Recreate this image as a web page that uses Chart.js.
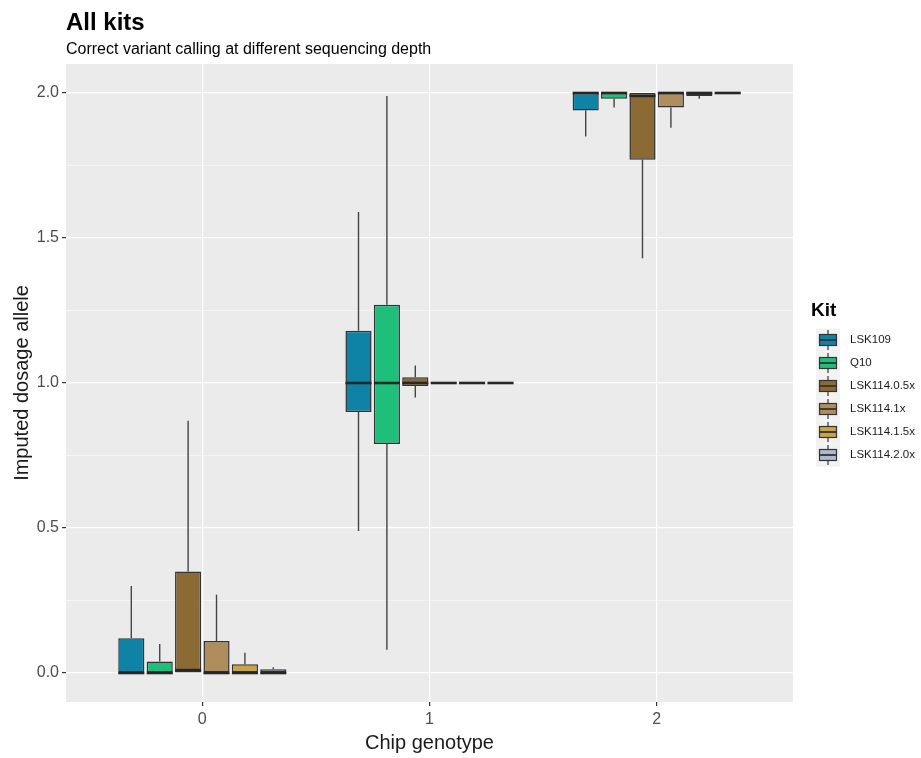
<!DOCTYPE html>
<html lang="en">
<head>
  <meta charset="UTF-8">
  <title>All kits</title>
  <script src="https://cdn.jsdelivr.net/npm/chart.js@4/dist/chart.umd.min.js"></script>
  <style>
    * { margin: 0; padding: 0; box-sizing: border-box; }
    body { background: #ffffff; width: 921px; height: 758px; overflow: hidden; }
    #wrap { position: relative; width: 921px; height: 758px; }
  </style>
</head>
<body>
  <div id="wrap"><canvas id="boxChart" width="921" height="758"></canvas></div>

  <script>
    // chip genotype groups on the x axis
    const genotypes = [0, 1, 2];
    const kits = ['LSK109', 'Q10', 'LSK114.0.5x', 'LSK114.1x', 'LSK114.1.5x', 'LSK114.2.0x'];
    const kitColors = ['#0e83a6', '#1ebf7b', '#8c6a34', '#b08d5c', '#c8a445', '#aebacb'];

    // five-number summary per genotype: [min, q1, median, q3, max]
    const lsk109   = [[0, 0, 0, 0.12, 0.30],     [0.49, 0.90, 1.00, 1.18, 1.59], [1.85, 1.94, 2.00, 2.00, 2.00]];
    const q10      = [[0, 0, 0, 0.04, 0.10],     [0.08, 0.79, 1.00, 1.27, 1.99], [1.95, 1.98, 2.00, 2.00, 2.00]];
    const lsk114_05 = [[0, 0, 0.01, 0.35, 0.87], [0.95, 0.99, 1.00, 1.02, 1.06], [1.43, 1.77, 1.99, 2.00, 2.00]];
    const lsk114_1  = [[0, 0, 0, 0.11, 0.27],    [1.00, 1.00, 1.00, 1.00, 1.00], [1.88, 1.95, 2.00, 2.00, 2.00]];
    const lsk114_15 = [[0, 0, 0, 0.03, 0.07],    [1.00, 1.00, 1.00, 1.00, 1.00], [1.98, 1.99, 2.00, 2.00, 2.00]];
    const lsk114_20 = [[0, 0, 0, 0.013, 0.02],   [1.00, 1.00, 1.00, 1.00, 1.00], [2.00, 2.00, 2.00, 2.00, 2.00]];
    const kitStats = [lsk109, q10, lsk114_05, lsk114_1, lsk114_15, lsk114_20];

    const FONT = "'Liberation Sans', Arial, sans-serif";
    const isMajor = v => Math.abs(v * 2 - Math.round(v * 2)) < 1e-9;

    // grey panel behind the grid
    const panelBg = {
      id: 'panelBg',
      beforeDraw(chart) {
        const { ctx, chartArea: a } = chart;
        ctx.save();
        ctx.fillStyle = '#ebebeb';
        ctx.fillRect(a.left, a.top, a.right - a.left, a.bottom - a.top);
        ctx.restore();
      }
    };

    // whiskers and medians on top of the floating bars
    const whiskers = {
      id: 'whiskers',
      afterDatasetsDraw(chart) {
        const { ctx } = chart;
        const y = chart.scales.y;
        ctx.save();
        chart.data.datasets.forEach((ds, d) => {
          const meta = chart.getDatasetMeta(d);
          meta.data.forEach((bar, i) => {
            const s = kitStats[d][i];
            const { x, width } = bar.getProps(['x', 'width'], true);
            ctx.strokeStyle = '#444444';
            ctx.lineWidth = 1.4;
            ctx.beginPath();
            ctx.moveTo(x, y.getPixelForValue(s[3]));
            ctx.lineTo(x, y.getPixelForValue(s[4]));
            ctx.moveTo(x, y.getPixelForValue(s[1]));
            ctx.lineTo(x, y.getPixelForValue(s[0]));
            ctx.stroke();
            ctx.strokeStyle = '#262626';
            ctx.lineWidth = 2.6;
            ctx.beginPath();
            const my = y.getPixelForValue(s[2]);
            ctx.moveTo(x - width / 2, my);
            ctx.lineTo(x + width / 2, my);
            ctx.stroke();
          });
        });
        ctx.restore();
      }
    };

    // title, subtitle and the kit legend
    const annotations = {
      id: 'annotations',
      afterDraw(chart) {
        const { ctx } = chart;
        ctx.save();
        ctx.fillStyle = '#000';
        ctx.textBaseline = 'alphabetic';
        ctx.textAlign = 'left';
        ctx.font = 'bold 24px ' + FONT;
        ctx.fillText('All kits', 66, 30);
        ctx.font = '16px ' + FONT;
        ctx.fillText('Correct variant calling at different sequencing depth', 66, 54);

        ctx.font = 'bold 19px ' + FONT;
        ctx.textBaseline = 'middle';
        ctx.fillText('Kit', 811, 311);

        kits.forEach((k, i) => {
          const cy = 340 + i * 23;
          ctx.fillStyle = '#f2f2f2';
          ctx.fillRect(816, cy - 11.5, 24, 23);
          ctx.strokeStyle = '#333';
          ctx.lineWidth = 1.2;
          ctx.beginPath();
          ctx.moveTo(828, cy - 10);
          ctx.lineTo(828, cy + 10);
          ctx.stroke();
          ctx.fillStyle = kitColors[i];
          ctx.fillRect(819, cy - 6, 18, 12);
          ctx.strokeRect(819.5, cy - 5.5, 17, 11);
          ctx.lineWidth = 1.8;
          ctx.beginPath();
          ctx.moveTo(819, cy);
          ctx.lineTo(837, cy);
          ctx.stroke();
          ctx.fillStyle = '#1a1a1a';
          ctx.font = '11.5px ' + FONT;
          ctx.fillText(k, 850, cy);
        });
        ctx.restore();
      }
    };

    const ctx = document.getElementById('boxChart').getContext('2d');
    new Chart(ctx, {
      type: 'bar',
      data: {
        datasets: kits.map((k, d) => ({
          label: k,
          data: genotypes.map((g, i) => ({ x: g, y: [kitStats[d][i][1], kitStats[d][i][3]] })),
          backgroundColor: kitColors[d],
          borderColor: '#333333',
          borderWidth: 1.5,
          borderSkipped: false,
          categoryPercentage: 0.75,
          barPercentage: 0.92
        }))
      },
      options: {
        responsive: false,
        animation: false,
        events: [],
        layout: { padding: { left: 0, top: 64, right: 128, bottom: 0 } },
        plugins: {
          legend: { display: false },
          tooltip: { enabled: false },
          title: { display: false }
        },
        scales: {
          x: {
            type: 'linear',
            min: -0.6,
            max: 2.6,
            offset: false,
            afterFit: s => { s.height = 56; },
            border: { display: false },
            grid: { offset: false, color: '#ffffff', lineWidth: 1.2, tickColor: '#333333', tickLength: 4, tickWidth: 1.2 },
            ticks: {
              stepSize: 1,
              includeBounds: false,
              padding: 4,
              color: '#4d4d4d',
              font: { family: FONT, size: 16 },
              callback: v => String(v)
            },
            title: { display: true, text: 'Chip genotype', color: '#1a1a1a', font: { family: FONT, size: 20 }, padding: { top: 0, bottom: 3 } }
          },
          y: {
            min: -0.1,
            max: 2.1,
            afterFit: s => { s.width = 66; },
            border: { display: false },
            grid: {
              color: '#ffffff',
              lineWidth: c => isMajor(c.tick.value) ? 1.2 : 0.5,
              tickColor: c => isMajor(c.tick.value) ? '#333333' : 'rgba(0,0,0,0)',
              tickLength: 4,
              tickWidth: 1.2
            },
            ticks: {
              stepSize: 0.25,
              includeBounds: false,
              padding: 3,
              color: '#4d4d4d',
              font: { family: FONT, size: 16 },
              callback: v => isMajor(v) ? v.toFixed(1) : ''
            },
            title: { display: true, text: 'Imputed dosage allele', color: '#1a1a1a', font: { family: FONT, size: 20 }, padding: { top: 10, bottom: 0 } }
          }
        }
      },
      plugins: [panelBg, whiskers, annotations]
    });
  </script>
</body>
</html>
